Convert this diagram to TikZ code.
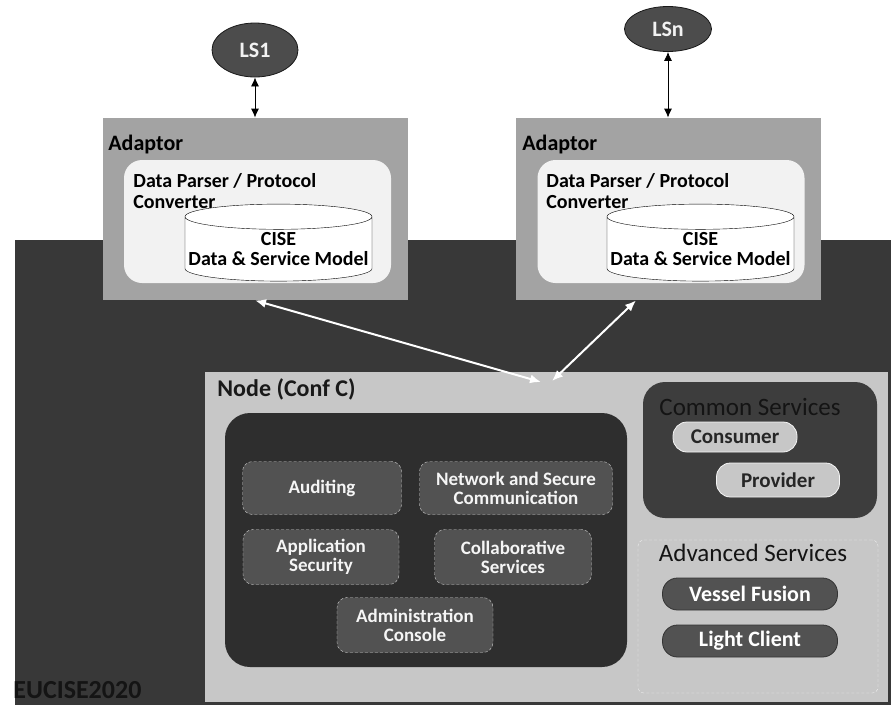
\documentclass[tikz,border=0pt]{standalone}
\usepackage{fontspec}
\setmainfont{Carlito}
\usetikzlibrary{shapes.geometric,arrows.meta,calc}
\newcommand{\fs}[1]{\fontsize{#1}{#1}\selectfont}
\begin{document}
\begin{tikzpicture}[x=1pt, y=-1pt, thick,
  ls/.style = {ellipse, draw=black!90, fill=black!70, text=black!5, inner sep=0pt, font=\fs{22}\bfseries},
  adaptor/.style = {rectangle, fill=black!36, minimum width=305pt, minimum height=182pt},
  conv/.style = {rectangle, rounded corners=18pt, fill=black!5, minimum width=267pt, minimum height=123pt},
  db/.style = {cylinder, shape border rotate=90, aspect=0.14, draw, thin, fill=white, minimum width=187pt, minimum height=77pt, inner sep=0pt, align=center, font=\fs{20}\bfseries},
  lbl/.style = {anchor=base west, inner sep=0pt, font=\fs{20}\bfseries},
  svc/.style = {rectangle, rounded corners=10pt, draw=black!20, densely dashed, thin, fill=black!68, text=black!4, align=center, inner sep=1pt, font=\fs{19}\bfseries},
  pill/.style = {rectangle, rounded corners=14pt, draw=black!4, fill=black!22, text=black!85, font=\fs{21}\bfseries},
  apill/.style = {rectangle, rounded corners=15pt, draw=black!80, fill=black!68, text=white, minimum width=175pt, minimum height=32pt, font=\fs{22}\bfseries},
  wharrow/.style = {white, line width=2pt, {Latex[length=11pt,width=9pt]}-{Latex[length=11pt,width=9pt]}}]
\useasboundingbox (0,0) rectangle (891,710);
\fill[black!78] (15,240) rectangle (891,705);
\node[ls, minimum width=86pt, minimum height=54pt] (ls1) at (255,50) {LS1};
\node[ls, minimum width=87pt, minimum height=45pt] (lsn) at (668,29) {LSn};
\node[adaptor] (adp1) at (255,209) {};
\node[adaptor] (adp2) at (668,209) {};
\node[lbl, font=\fs{22}\bfseries] (adl1) at (108,150) {Adaptor};
\node[lbl, font=\fs{22}\bfseries] (adl2) at (522,150) {Adaptor};
\node[conv] (conv1) at (257.5,221.5) {};
\node[conv] (conv2) at (671,221.5) {};
\node[lbl] (dp1) at (133,187) {Data Parser / Protocol};
\node[lbl] (cv1) at (133,208) {Converter};
\node[lbl] (dp2) at (546,187) {Data Parser / Protocol};
\node[lbl] (cv2) at (546,208) {Converter};
\node[db] (db1) at (278.5,249) {CISE\\Data \& Service Model};
\node[db] (db2) at (700.5,249) {CISE\\Data \& Service Model};
\node[rectangle, fill=black!22, minimum width=683pt, minimum height=330pt] (confc) at (546.5,537) {};
\node[lbl, font=\fs{24}\bfseries, text=black!90] (conft) at (217,396) {Node (Conf C)};
\node[rectangle, rounded corners=25pt, fill=black!82, minimum width=402pt, minimum height=254pt] (core) at (426,540) {};
\node[svc, minimum width=159pt, minimum height=53pt] (audit) at (322,488) {Auditing};
\node[svc, minimum width=193pt, minimum height=53pt] (netsec) at (516,488) {Network and Secure\\Communication};
\node[svc, minimum width=156pt, minimum height=55pt] (appsec) at (321,557) {Application\\Security};
\node[svc, minimum width=157pt, minimum height=55pt] (collab) at (513,557) {Collaborative\\Services};
\node[svc, minimum width=156pt, minimum height=55pt] (admin) at (415,625) {Administration\\Console};
\node[rectangle, rounded corners=22pt, fill=black!76, minimum width=234pt, minimum height=136pt] (common) at (760,450) {};
\node[text=black!92, font=\fs{25}] (comt) at (750,407) {Common Services};
\node[pill, minimum width=124pt, minimum height=30pt] (cons) at (735,437) {Consumer};
\node[pill, minimum width=123pt, minimum height=34pt] (prov) at (778,480) {Provider};
\node[rectangle, rounded corners=6pt, draw=black!6, densely dashed, thin, minimum width=240pt, minimum height=153pt] (adv) at (758,616.5) {};
\node[text=black!92, font=\fs{25}] (advt) at (753,553) {Advanced Services};
\node[apill] (vessel) at (750,594) {Vessel Fusion};
\node[apill] (light) at (750,641) {Light Client};
\node[lbl, font=\fs{26}\bfseries, text=black!92] (euc) at (13,698) {EUCISE2020};
\coordinate (hubl) at (541,382);
\coordinate (hubr) at (552,381);
\draw[<->, >={Latex[length=9pt,width=8pt]}] (ls1) -- (adp1);
\draw[<->, >={Latex[length=9pt,width=8pt]}] (lsn) -- (adp2);
\draw[wharrow] (adp1.south) -- (hubl);
\draw[wharrow] ($(adp2.south)+(-32,0)$) -- (hubr);
\end{tikzpicture}
\end{document}
